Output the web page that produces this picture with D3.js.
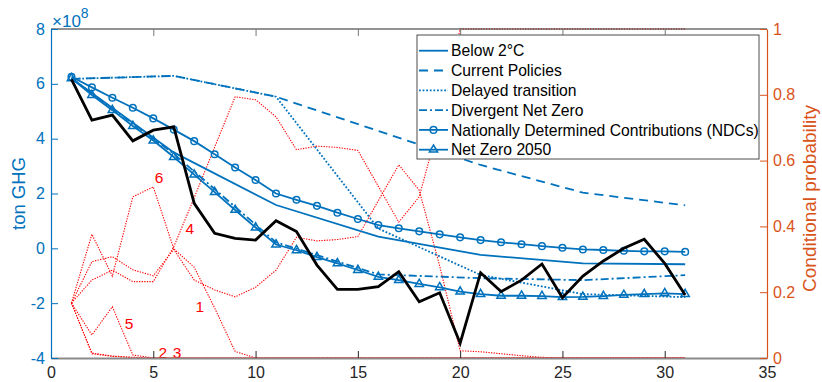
<!DOCTYPE html>
<html>
<head>
<meta charset="utf-8">
<script src="https://cdn.jsdelivr.net/npm/d3@7"></script>
<style>
  body { margin: 0; background: #fff; }
  svg text { font-family: "Liberation Sans", Arial, Helvetica, sans-serif; }
</style>
</head>
<body>
<svg id="chart" width="822" height="382"></svg>
<script>
// ---- data -------------------------------------------------------------
// time steps (annual) and the 5-year steps of the scenario pathways
const steps = [1,2,3,4,5,6,7,8,9,10,11,12,13,14,15,16,17,18,19,20,21,22,23,24,25,26,27,28,29,30,31];
const fiveYearSteps = [1,6,11,16,21,26,31];

// emissions, ton GHG (x 1e8)
const below2C        = [6.20, 3.50, 1.58, 0.43, -0.24, -0.55, -0.58];
const currentPolicies = [6.18, 6.29, 5.53, 4.28, 3.04, 2.03, 1.57];
const delayedTransition = [6.18, 6.29, 5.53, 0.72, -0.97, -1.67, -1.78];
const divergentNetZero = [6.20, 3.45, 0.22, -0.95, -1.09, -1.16, -0.98];

const ndcs = [6.26, 5.87, 5.49, 5.13, 4.74, 4.33, 3.91, 3.43, 2.95, 2.49, 2.00, 1.77, 1.55, 1.30, 1.07, 0.85,
              0.73, 0.62, 0.51, 0.40, 0.30, 0.22, 0.15, 0.08, 0.02, -0.04, -0.06, -0.09, -0.11, -0.11, -0.13];
const netZero2050 = [6.20, 5.59, 5.04, 4.46, 3.93, 3.33, 2.69, 2.05, 1.40, 0.76, 0.14, -0.07, -0.32, -0.55, -0.79, -1.04,
                     -1.16, -1.30, -1.42, -1.58, -1.67, -1.73, -1.73, -1.74, -1.78, -1.77, -1.74, -1.70, -1.67, -1.64, -1.67];
const emissionPath = [6.16, 4.68, 4.86, 3.92, 4.31, 4.43, 1.64, 0.55, 0.36, 0.30, 1.01, 0.61, -0.61, -1.50, -1.50, -1.40,
                      -0.85, -1.95, -1.62, -3.46, -0.89, -1.58, -1.16, -0.57, -1.80, -1.01, -0.46, 0.00, 0.33, -0.55, -1.70];

// conditional probability of each scenario (1..6)
const prob1 = [0.167, 0.293, 0.308, 0.268, 0.250, 0.330, 0.237, 0.207, 0.186, 0.215, 0.267, 0.367, 0.356, 0.360, 0.369, 0.478,
               0.587, 0.510, 0.280, 0.022, 0.019, 0.013, 0.007, 0.002, 0, 0, 0, 0, 0, 0, 0];
const prob2 = [0.167, 0.015, 0.006, 0.002, 0, 0, 0, 0, 0, 0, 0, 0, 0, 0, 0, 0, 0, 0, 0, 0, 0, 0, 0, 0, 0, 0, 0, 0, 0, 0, 0];
const prob3 = [0.167, 0.013, 0.005, 0.001, 0, 0, 0, 0, 0, 0, 0, 0, 0, 0, 0, 0, 0, 0, 0, 0, 0, 0, 0, 0, 0, 0, 0, 0, 0, 0, 0];
const prob4 = [0.167, 0.237, 0.267, 0.232, 0.232, 0.338, 0.487, 0.641, 0.794, 0.785, 0.733, 0.633, 0.644, 0.640, 0.631, 0.522,
               0.413, 0.490, 0.720, 1, 1, 1, 1, 1, 1, 1, 1, 1, 1, 1, 1];
const prob5 = [0.167, 0.070, 0.156, 0.009, 0, 0, 0, 0, 0, 0, 0, 0, 0, 0, 0, 0, 0, 0, 0, 0, 0, 0, 0, 0, 0, 0, 0, 0, 0, 0, 0];
const prob6 = [0.167, 0.376, 0.249, 0.490, 0.520, 0.332, 0.276, 0.152, 0.020, 0, 0, 0, 0, 0, 0, 0, 0, 0, 0, 0, 0, 0, 0, 0, 0, 0, 0, 0, 0, 0, 0];

const xTicks = [0, 5, 10, 15, 20, 25, 30, 35];
const yLeftTicks = [-4, -2, 0, 2, 4, 6, 8];
const yRightTicks = [0, 0.2, 0.4, 0.6, 0.8, 1];
const legendNames = ["Below 2°C", "Current Policies", "Delayed transition", "Divergent Net Zero",
                     "Nationally Determined Contributions (NDCs)", "Net Zero 2050"];

// ---- layout -----------------------------------------------------------
const BLUE = "#0072BD", ORANGE = "#D95319", RED = "#FF0000";
const L = 51, R = 767, T = 29, B = 358;

const svg = d3.select("#chart");
const x = d3.scaleLinear().domain([0, 35]).range([L, R]);
const yL = d3.scaleLinear().domain([-4, 8]).range([B, T]);
const yR = d3.scaleLinear().domain([0, 1]).range([B, T]);

const lineL = d3.line().x(d => x(d[0])).y(d => yL(d[1]));
const lineR = d3.line().x(d => x(d[0])).y(d => yR(d[1]));
const zip = (xs, ys) => xs.map((v, i) => [v, ys[i]]);

const plot = svg.append("g");

// ---- probability traces (right axis) ----------------------------------
const probs = [prob1, prob2, prob3, prob4, prob5, prob6];
probs.forEach(p => {
  plot.append("path")
    .attr("d", lineR(zip(steps, p)))
    .attr("fill", "none")
    .attr("stroke", RED)
    .attr("stroke-width", 1.1)
    .attr("stroke-dasharray", "1.3,1.3");
});

// scenario numbers next to their traces
const scenarioTags = [
  { t: "6", k: 5.28, p: 0.55 },
  { t: "4", k: 6.79, p: 0.395 },
  { t: "1", k: 7.28, p: 0.158 },
  { t: "5", k: 3.81, p: 0.106 },
  { t: "2", k: 5.47, p: 0.018 },
  { t: "3", k: 6.16, p: 0.018 }
];
plot.selectAll("text.tag").data(scenarioTags).join("text")
  .attr("class", "tag")
  .attr("x", d => x(d.k)).attr("y", d => yR(d.p))
  .attr("text-anchor", "middle").attr("dy", "0.36em")
  .attr("font-size", 15.5).attr("fill", RED)
  .text(d => d.t);

// ---- scenario pathways (left axis) ------------------------------------
const styles = [
  { data: zip(fiveYearSteps, below2C), dash: null, marker: null },
  { data: zip(fiveYearSteps, currentPolicies), dash: "9,6", marker: null },
  { data: zip(fiveYearSteps, delayedTransition), dash: "1.8,1.8", marker: null },
  { data: zip(fiveYearSteps, divergentNetZero), dash: "8,3,2,3", marker: null },
  { data: zip(steps, ndcs), dash: null, marker: "circle" },
  { data: zip(steps, netZero2050), dash: null, marker: "triangle" }
];

const tri = d3.symbol().type(d3.symbolTriangle).size(30);

function drawMarker(g, kind, cx, cy) {
  if (kind === "circle") {
    g.append("circle").attr("cx", cx).attr("cy", cy).attr("r", 3.3)
      .attr("fill", "none").attr("stroke", BLUE).attr("stroke-width", 1.5);
  } else if (kind === "triangle") {
    g.append("path").attr("d", tri()).attr("transform", `translate(${cx},${cy})`)
      .attr("fill", "none").attr("stroke", BLUE).attr("stroke-width", 1.5);
  }
}

styles.forEach(s => {
  plot.append("path")
    .attr("d", lineL(s.data))
    .attr("fill", "none")
    .attr("stroke", BLUE)
    .attr("stroke-width", 1.8)
    .attr("stroke-dasharray", s.dash);
  if (s.marker) {
    const mg = plot.append("g");
    s.data.forEach(d => drawMarker(mg, s.marker, x(d[0]), yL(d[1])));
  }
});

// realised emission path
plot.append("path")
  .attr("d", lineL(zip(steps, emissionPath)))
  .attr("fill", "none")
  .attr("stroke", "#000")
  .attr("stroke-width", 2.8)
  .attr("stroke-linejoin", "miter");

// ---- axes ---------------------------------------------------------------
// top edge and top ticks
svg.append("line").attr("x1", L).attr("x2", R).attr("y1", T).attr("y2", T)
  .attr("stroke", "#262626").attr("stroke-width", 1);
const topAxis = svg.append("g").attr("transform", `translate(0,${T})`)
  .call(d3.axisTop(x).tickValues(xTicks.slice(1, -1)).tickSizeInner(-7).tickSizeOuter(0).tickFormat(""));
topAxis.select(".domain").remove();
topAxis.selectAll("line").attr("stroke", "#777");

// bottom axis
const bottomAxis = svg.append("g").attr("transform", `translate(0,${B})`)
  .call(d3.axisBottom(x).tickValues(xTicks).tickSizeInner(-7).tickSizeOuter(0).tickPadding(9)
    .tickFormat(d => String(d)));
bottomAxis.select(".domain").attr("stroke", "#8a8a8a").attr("stroke-width", 2);
bottomAxis.selectAll(".tick line").attr("stroke", "#262626");
bottomAxis.selectAll("text").attr("font-size", 16).attr("fill", "#262626")
  .attr("font-family", "Liberation Sans, Arial, sans-serif");

// left axis
const leftAxis = svg.append("g").attr("transform", `translate(${L},0)`)
  .call(d3.axisLeft(yL).tickValues(yLeftTicks).tickSizeInner(-7).tickSizeOuter(0).tickPadding(6)
    .tickFormat(d => String(d)));
leftAxis.select(".domain").attr("stroke", BLUE).attr("stroke-width", 1.2);
leftAxis.selectAll(".tick line").attr("stroke", BLUE);
leftAxis.selectAll("text").attr("font-size", 16).attr("fill", BLUE)
  .attr("font-family", "Liberation Sans, Arial, sans-serif");

// right axis
const rightAxis = svg.append("g").attr("transform", `translate(${R},0)`)
  .call(d3.axisRight(yR).tickValues(yRightTicks).tickSizeInner(-7).tickSizeOuter(0).tickPadding(6)
    .tickFormat(d => String(d)));
rightAxis.select(".domain").attr("stroke", ORANGE).attr("stroke-width", 1.2);
rightAxis.selectAll(".tick line").attr("stroke", ORANGE);
rightAxis.selectAll("text").attr("font-size", 16).attr("fill", ORANGE)
  .attr("font-family", "Liberation Sans, Arial, sans-serif");

// exponent marker
const expo = svg.append("text").attr("x", 52).attr("y", 27).attr("fill", BLUE).attr("font-size", 17);
expo.append("tspan").text("×10");
expo.append("tspan").attr("dy", -9).attr("font-size", 14).text("8");

// axis titles
svg.append("text")
  .attr("transform", `translate(25,${(T + B) / 2}) rotate(-90)`)
  .attr("text-anchor", "middle").attr("fill", BLUE).attr("font-size", 18.5)
  .text("ton GHG");
svg.append("text")
  .attr("transform", `translate(816,${(T + B) / 2 + 5}) rotate(-90)`)
  .attr("text-anchor", "middle").attr("fill", ORANGE).attr("font-size", 19)
  .text("Conditional probability");

// ---- legend -------------------------------------------------------------
const lg = svg.append("g");
const lgX = 417, lgY = 35, lgW = 342, lgH = 124, rowH = 19.8;
lg.append("rect").attr("x", lgX).attr("y", lgY).attr("width", lgW).attr("height", lgH)
  .attr("fill", "#fff").attr("stroke", "#4d4d4d").attr("stroke-width", 1);
legendNames.forEach((name, i) => {
  const cy = lgY + 15.7 + i * rowH;
  lg.append("line").attr("x1", lgX + 2).attr("x2", lgX + 31).attr("y1", cy).attr("y2", cy)
    .attr("stroke", BLUE).attr("stroke-width", 1.8).attr("stroke-dasharray", styles[i].dash);
  if (styles[i].marker) drawMarker(lg, styles[i].marker, lgX + 16.5, cy);
  lg.append("text").attr("x", lgX + 34).attr("y", cy + 5.6)
    .attr("font-size", 15.7).attr("fill", "#000").text(name);
});
</script>
</body>
</html>
